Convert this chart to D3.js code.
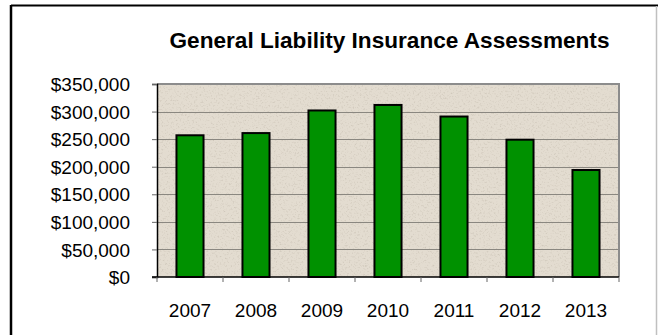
<!DOCTYPE html>
<html>
<head>
<meta charset="utf-8">
<script src="https://cdn.jsdelivr.net/npm/d3@7"></script>
<style>
  html, body { margin: 0; padding: 0; background: #fff; }
  svg { display: block; }
  text { font-family: "Liberation Sans", Arial, sans-serif; fill: #000; }
</style>
</head>
<body>
<svg id="chart" width="658" height="335"></svg>
<script>
// Annual general liability insurance assessments (USD)
const years = ["2007", "2008", "2009", "2010", "2011", "2012", "2013"];
const assessments = [257000, 261000, 302000, 312000, 291000, 249000, 194000];
const yTicks = [0, 50000, 100000, 150000, 200000, 250000, 300000, 350000];
const chartTitle = "General Liability Insurance Assessments";

const svg = d3.select("#chart");
const W = 658, H = 335;
const plot = { left: 157, right: 619, top: 84, bottom: 277 };

// Textured stone-like fill for the plot area
const defs = svg.append("defs");
const f = defs.append("filter").attr("id", "grain")
  .attr("x", 0).attr("y", 0).attr("width", "100%").attr("height", "100%");
f.append("feTurbulence").attr("type", "fractalNoise")
  .attr("baseFrequency", 0.55).attr("numOctaves", 2).attr("seed", 7).attr("result", "noise");
f.append("feColorMatrix").attr("in", "noise").attr("type", "matrix")
  .attr("values", "0 0 0 0 0.45  0 0 0 0 0.40  0 0 0 0 0.33  -2.2 0 0 0 1.05")
  .attr("result", "speck");
f.append("feComposite").attr("in", "speck").attr("in2", "SourceGraphic").attr("operator", "in");

// Outer frame
svg.append("line").attr("x1", 11).attr("y1", 5.5).attr("x2", 658).attr("y2", 5.5)
  .attr("stroke", "#000").attr("stroke-width", 2);
svg.append("line").attr("x1", 11).attr("y1", 5).attr("x2", 11).attr("y2", H)
  .attr("stroke", "#000").attr("stroke-width", 2.5);
svg.append("line").attr("x1", 656.5).attr("y1", 6).attr("x2", 656.5).attr("y2", H)
  .attr("stroke", "#c0c0c0").attr("stroke-width", 1.5);

// Title
svg.append("text")
  .attr("x", 389.5).attr("y", 48)
  .attr("text-anchor", "middle")
  .style("font-size", "22.6px").style("font-weight", "bold")
  .text(chartTitle);

const x = d3.scaleBand().domain(years).range([plot.left, plot.right])
  .paddingInner(0.59).paddingOuter(0.295);
const y = d3.scaleLinear().domain([0, 350000]).range([plot.bottom, plot.top]);

// Plot background
svg.append("rect")
  .attr("x", plot.left).attr("y", plot.top)
  .attr("width", plot.right - plot.left).attr("height", plot.bottom - plot.top)
  .attr("fill", "#e3dcd0");
svg.append("rect")
  .attr("x", plot.left).attr("y", plot.top)
  .attr("width", plot.right - plot.left).attr("height", plot.bottom - plot.top)
  .attr("fill", "#e3dcd0").attr("filter", "url(#grain)").attr("opacity", 0.5);

// Horizontal gridlines
svg.append("g").selectAll("line")
  .data(yTicks.filter(d => d > 0 && d < 350000))
  .join("line")
  .attr("x1", plot.left).attr("x2", plot.right)
  .attr("y1", d => Math.round(y(d)) + 0.5).attr("y2", d => Math.round(y(d)) + 0.5)
  .attr("stroke", "#8a8780").attr("stroke-width", 1);

// Plot border (top and right in grey)
svg.append("path")
  .attr("d", `M${plot.left},${plot.top} H${plot.right} V${plot.bottom}`)
  .attr("fill", "none").attr("stroke", "#8c8c8c").attr("stroke-width", 2);

// Bars
svg.append("g").selectAll("rect")
  .data(years.map((yr, i) => ({ yr, v: assessments[i] })))
  .join("rect")
  .attr("x", d => x(d.yr))
  .attr("y", d => y(d.v))
  .attr("width", x.bandwidth())
  .attr("height", d => y(0) - y(d.v))
  .attr("fill", "#009100")
  .attr("stroke", "#000").attr("stroke-width", 2);

// Y axis
const yAxis = svg.append("g")
  .attr("transform", `translate(${plot.left},0)`)
  .call(d3.axisLeft(y).tickValues(yTicks).tickSize(5).tickPadding(22)
    .tickFormat(d => "$" + d3.format(",")(d)));
yAxis.select(".domain").attr("stroke", "#000").attr("stroke-width", 1.5);
yAxis.selectAll(".tick line").attr("stroke", "#666");
yAxis.selectAll("text").style("font-size", "19px").attr("dy", "0.35em");

// X axis with ticks at category boundaries
const xg = svg.append("g").attr("transform", `translate(0,${plot.bottom})`);
xg.append("line").attr("x1", plot.left - 5).attr("x2", plot.right)
  .attr("stroke", "#000").attr("stroke-width", 1.5);
const step = x.step();
xg.selectAll("line.tk")
  .data(d3.range(years.length + 1))
  .join("line").attr("class", "tk")
  .attr("x1", i => plot.left + i * step).attr("x2", i => plot.left + i * step)
  .attr("y1", 0).attr("y2", 5)
  .attr("stroke", "#666");
xg.selectAll("text")
  .data(years)
  .join("text")
  .attr("x", d => x(d) + x.bandwidth() / 2)
  .attr("y", 40)
  .attr("text-anchor", "middle")
  .style("font-size", "19px")
  .text(d => d);
</script>
</body>
</html>
